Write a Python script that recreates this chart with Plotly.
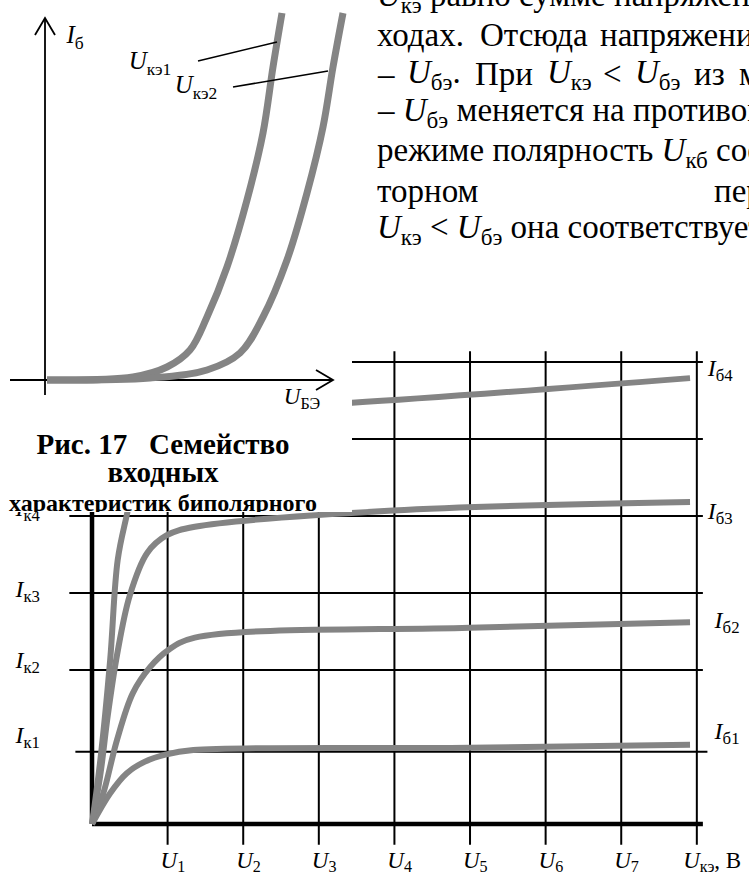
import plotly.graph_objects as go

W, H = 749, 874
FONT = "Liberation Serif, Times New Roman, serif"
GRAY = "#848484"
BLACK = "#000000"

# ---------------- output characteristics  I_k = f(U_ke) ----------------
u_ticks = [1, 2, 3, 4, 5, 6, 7, 8]
u_tick_text = ["<i>U</i><sub>1</sub>", "<i>U</i><sub>2</sub>", "<i>U</i><sub>3</sub>",
               "<i>U</i><sub>4</sub>", "<i>U</i><sub>5</sub>", "<i>U</i><sub>6</sub>",
               "<i>U</i><sub>7</sub>"]
u_axis_title = "<i>U</i><sub>кэ</sub>, В"

ik_levels = [0.94, 2.0, 3.0, 4.0]          # I_k1 .. I_k4
ik_upper_levels = [5.0, 6.0]               # further grid rows
ik_text = ["<i>I</i><sub>к1</sub>", "<i>I</i><sub>к2</sub>",
           "<i>I</i><sub>к3</sub>", "<i>I</i><sub>к4</sub>"]
ik_text_y = [1.13, 2.10, 3.03, 4.08]

# base-current families
ib1_u = [0.0, 0.24, 0.46, 0.70, 0.97, 1.34, 4.99, 7.91]
ib1_i = [0.0, 0.40, 0.66, 0.81, 0.90, 0.96, 0.99, 1.03]

ib2_u = [0.0, 0.15, 0.33, 0.54, 0.77, 1.01, 1.36, 4.99, 7.91]
ib2_i = [0.0, 0.40, 1.09, 1.70, 2.04, 2.26, 2.42, 2.55, 2.62]

ib3_u = [0.0, 0.11, 0.21, 0.33, 0.50, 0.73, 0.99, 1.36, 3.98, 7.91]
ib3_i = [0.0, 0.64, 1.42, 2.19, 2.97, 3.52, 3.75, 3.86, 4.07, 4.18]

ib4_u = [0.0, 0.11, 0.24, 0.34, 0.46, 0.60, 0.90, 1.43, 3.44, 7.91]
ib4_i = [0.0, 0.83, 2.13, 3.43, 4.01, 4.60, 5.12, 5.38, 5.47, 5.79]

ib_text = ["<i>I</i><sub>б1</sub>", "<i>I</i><sub>б2</sub>",
           "<i>I</i><sub>б3</sub>", "<i>I</i><sub>б4</sub>"]
ib_text_u = [8.40, 8.40, 8.31, 8.31]
ib_text_i = [1.18, 2.62, 4.04, 5.90]

# grid extents (in axis units)
GRID_LEFT, GRID_RIGHT = -0.30, 8.08
ROW1_LEFT, ROW1_RIGHT = -0.22, 8.14
GRID_BOTTOM, GRID_TOP = -0.27, 6.14

# axis ranges of the output chart (whole page)
X1_RANGE = [-1.217, 8.69]
Y1_RANGE = [-0.649, 10.70]

# ---------------- input characteristics  I_b = f(U_be) ----------------
uke1_u = [0.02, 0.88, 1.22, 1.45, 1.62, 1.82, 2.02, 2.18, 2.28, 2.37]
uke1_i = [0.0, 0.03, 0.13, 0.30, 0.63, 1.13, 1.80, 2.47, 3.13, 3.67]

uke2_u = [0.02, 1.05, 1.62, 1.95, 2.18, 2.42, 2.62, 2.78, 2.88, 2.98]
uke2_i = [0.0, 0.02, 0.10, 0.27, 0.63, 1.20, 1.87, 2.53, 3.13, 3.67]

X2_RANGE = [-0.45, 3.07]
Y2_RANGE = [-1.32, 3.80]
PANEL_W_PX, PANEL_H_PX = 352, 512

AX2_X_MIN, AX2_X_MAX = -0.35, 2.88
AX2_Y_MIN, AX2_Y_MAX = -0.15, 3.62
HEAD_L, HEAD_W = 0.17, 0.10

fig = go.Figure()


def line(x, y, width, color=BLACK, xa="x", ya="y", shape="linear"):
    fig.add_trace(go.Scatter(x=x, y=y, mode="lines", xaxis=xa, yaxis=ya,
                             line=dict(color=color, width=width, shape=shape),
                             hoverinfo="skip", showlegend=False))


def text(x, y, labels, size, xa="x", ya="y", pos="middle center"):
    fig.add_trace(go.Scatter(x=x, y=y, mode="text", text=labels, xaxis=xa, yaxis=ya,
                             textposition=pos, cliponaxis=True,
                             textfont=dict(family=FONT, size=size, color=BLACK),
                             hoverinfo="skip", showlegend=False))


# grid: vertical lines at U ticks
for u in u_ticks:
    line([u, u], [GRID_BOTTOM, GRID_TOP], 2)
# grid: horizontal rows
line([ROW1_LEFT, ROW1_RIGHT], [ik_levels[0]] * 2, 2)
for lv in ik_levels[1:] + ik_upper_levels:
    line([GRID_LEFT, GRID_RIGHT], [lv, lv], 2)
# thick axes
line([0, 0], [0, GRID_TOP], 4.5)
line([0, GRID_RIGHT], [0, 0], 4.5)

# characteristic curves
for xs, ys in [(ib1_u, ib1_i), (ib2_u, ib2_i), (ib3_u, ib3_i), (ib4_u, ib4_i)]:
    line(xs, ys, 6, GRAY, shape="spline")

# labels of the output chart
text([u + 0.07 for u in u_ticks[:-1]], [-0.49] * 7, u_tick_text, 23)
text([7.82], [-0.49], [u_axis_title], 23, pos="middle right")
text([-0.85] * 4, ik_text_y, ik_text, 24)
text(ib_text_u, ib_text_i, ib_text, 24)

# ---------------- input characteristics panel (covers the grid behind it) ----------------
x0, x1 = X2_RANGE
y0, y1 = Y2_RANGE
fig.add_trace(go.Scatter(x=[x0, x1, x1, x0, x0], y=[y0, y0, y1, y1, y0], xaxis="x2", yaxis="y2",
                         mode="lines", fill="toself", fillcolor="white",
                         line=dict(width=0, color="white"), hoverinfo="skip", showlegend=False))

# axes with open arrow heads
line([0, 0], [AX2_Y_MIN, AX2_Y_MAX], 1.8, xa="x2", ya="y2")
line([-HEAD_W, 0, HEAD_W], [AX2_Y_MAX - HEAD_L, AX2_Y_MAX, AX2_Y_MAX - HEAD_L], 1.8, xa="x2", ya="y2")
line([AX2_X_MIN, AX2_X_MAX], [0, 0], 1.8, xa="x2", ya="y2")
line([AX2_X_MAX - HEAD_L, AX2_X_MAX, AX2_X_MAX - HEAD_L], [HEAD_W, 0, -HEAD_W], 1.8, xa="x2", ya="y2")

# curves
line(uke1_u, uke1_i, 7, GRAY, xa="x2", ya="y2", shape="spline")
line(uke2_u, uke2_i, 7, GRAY, xa="x2", ya="y2", shape="spline")

# leader lines to the curve labels
line([1.53, 2.32], [3.19, 3.38], 1.6, xa="x2", ya="y2")
line([1.88, 2.83], [2.93, 3.09], 1.6, xa="x2", ya="y2")

text([0.30], [3.43], ["<i>I</i><sub>б</sub>"], 25, xa="x2", ya="y2")
text([2.57], [-0.18], ["<i>U</i><sub>БЭ</sub>"], 23, xa="x2", ya="y2")
text([1.05], [3.17], ["<i>U</i><sub>кэ1</sub>"], 25, xa="x2", ya="y2")
text([1.51], [2.93], ["<i>U</i><sub>кэ2</sub>"], 25, xa="x2", ya="y2")

# figure caption (its last line is clipped by the panel edge)
text([1.18, 1.18], [-0.67, -0.95], ["<b>Рис. 17   Семейство</b>", "<b>входных</b>"],
     29, xa="x2", ya="y2")
text([1.18], [-1.25], ["<b>характеристик биполярного</b>"], 24, xa="x2", ya="y2")

# ---------------- body text to the right ----------------
PAR_SIZE = 33
par_words = [
    (8, [(375, "<i>U</i><sub>кэ</sub> равно сумме напряжений")]),
    (46.5, [(375, "ходах."), (478, "Отсюда"), (598, "напряжение")]),
    (85.5, [(375, "–"), (405, "<i>U</i><sub>бэ</sub>."), (473, "При"),
            (545, "<i>U</i><sub>кэ</sub>"), (601, "&lt;"), (633, "<i>U</i><sub>бэ</sub>"),
            (692, "из"), (737, "многих")]),
    (124, [(375, "– <i>U</i><sub>бэ</sub> меняется на противоположную")]),
    (163, [(375, "режиме полярность <i>U</i><sub>кб</sub> соответствует")]),
    (201.5, [(375, "торном"), (712, "переходе")]),
    (240, [(375, "<i>U</i><sub>кэ</sub> &lt; <i>U</i><sub>бэ</sub> она соответствует")]),
]
annotations = []
for base, words in par_words:
    for xl, w in words:
        annotations.append(dict(x=xl / W, y=1 - (base - 11) / H, xref="paper", yref="paper",
                                text=w, showarrow=False, xanchor="left", yanchor="middle",
                                font=dict(family=FONT, size=PAR_SIZE, color=BLACK)))

hidden = dict(visible=False, showgrid=False, zeroline=False, fixedrange=True)
fig.update_layout(
    width=W, height=H, margin=dict(l=0, r=0, t=0, b=0, pad=0),
    paper_bgcolor="white", plot_bgcolor="white", showlegend=False, hovermode=False,
    xaxis=dict(hidden, range=X1_RANGE, domain=[0, 1]),
    yaxis=dict(hidden, range=Y1_RANGE, domain=[0, 1]),
    xaxis2=dict(hidden, range=X2_RANGE, domain=[0, PANEL_W_PX / W], anchor="y2"),
    yaxis2=dict(hidden, range=Y2_RANGE, domain=[1 - PANEL_H_PX / H, 1], anchor="x2"),
    annotations=annotations,
)

fig.write_html("out.html", config={"displayModeBar": False, "staticPlot": True})
